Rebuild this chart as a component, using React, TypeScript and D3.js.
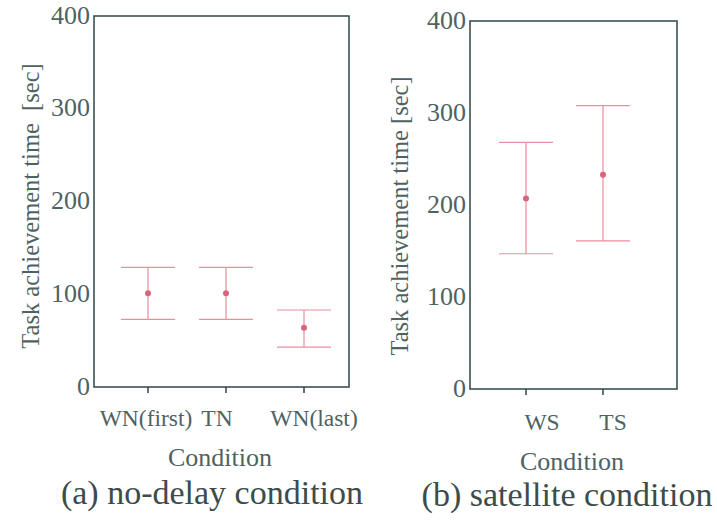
import React, { useEffect, useRef } from 'react';
import * as d3 from 'd3';

// (a) no-delay condition
const noDelayConditions = ['WN(first)', 'TN', 'WN(last)'];
const noDelayMean = [101, 101, 64];
const noDelayUpper = [129, 129, 83];
const noDelayLower = [73, 73, 43];

// (b) satellite condition
const satelliteConditions = ['WS', 'TS'];
const satelliteMean = [207, 233];
const satelliteUpper = [268, 308];
const satelliteLower = [147, 161];

const yTicks = [0, 100, 200, 300, 400];

const FONT = '"Liberation Serif", "Times New Roman", serif';
const TEXT = '#4f6262';
const AXIS = '#2f4646';
const BAR = '#ec8c9c';
const DOT = '#d9647c';

const panels = [
  {
    cats: noDelayConditions, mean: noDelayMean, up: noDelayUpper, lo: noDelayLower,
    left: 94, right: 349, top: 16, bottom: 387, pts: [148, 304],
    labelDx: [-2, -9, 10], tickLabelY: 426,
    yLabel: 'Task achievement time  [sec]', yLabelX: 39, yLabelY: 206,
    xTitleX: 220, xTitleY: 466, caption: '(a) no-delay condition', captionX: 212, captionY: 504,
  },
  {
    cats: satelliteConditions, mean: satelliteMean, up: satelliteUpper, lo: satelliteLower,
    left: 470, right: 677, top: 21, bottom: 389, pts: [526, 603],
    labelDx: [16, 10], tickLabelY: 430,
    yLabel: 'Task achievement time [sec]', yLabelX: 408, yLabelY: 216,
    xTitleX: 572, xTitleY: 470, caption: '(b) satellite condition', captionX: 567, captionY: 506,
  },
];

export default function App() {
  const ref = useRef<SVGSVGElement>(null);

  useEffect(() => {
    const svg = d3.select(ref.current);
    svg.selectAll('*').remove();

    panels.forEach((p) => {
      const g = svg.append('g');
      const y = d3.scaleLinear().domain([0, 400]).range([p.bottom, p.top]);
      const x = d3.scalePoint<string>().domain(p.cats).range(p.pts as [number, number]);

      // frame
      g.append('rect')
        .attr('x', p.left).attr('y', p.top)
        .attr('width', p.right - p.left).attr('height', p.bottom - p.top)
        .attr('fill', 'none').attr('stroke', AXIS).attr('stroke-width', 1.5);

      // y tick labels
      g.selectAll('.ytick').data(yTicks).join('text')
        .attr('x', p.left - 4).attr('y', (d) => y(d) - 1)
        .attr('text-anchor', 'end').attr('dominant-baseline', 'central')
        .attr('font-family', FONT).attr('font-size', 26).attr('fill', TEXT)
        .text((d) => d);

      // x ticks
      g.selectAll('.xtick').data(p.cats).join('line')
        .attr('x1', (d) => x(d)!).attr('x2', (d) => x(d)!)
        .attr('y1', p.bottom).attr('y2', p.bottom + 6)
        .attr('stroke', AXIS).attr('stroke-width', 1.5);

      g.selectAll('.xlabel').data(p.cats).join('text')
        .attr('x', (d, i) => x(d)! + p.labelDx[i]).attr('y', p.tickLabelY)
        .attr('text-anchor', 'middle')
        .attr('font-family', FONT).attr('font-size', 23.5).attr('fill', TEXT)
        .text((d) => d);

      // error bars
      const bars = g.selectAll('.bar').data(p.cats).join('g');
      bars.append('line')
        .attr('x1', (d) => x(d)!).attr('x2', (d) => x(d)!)
        .attr('y1', (d, i) => y(p.up[i])).attr('y2', (d, i) => y(p.lo[i]))
        .attr('stroke', BAR).attr('stroke-width', 1.2);
      bars.append('line')
        .attr('x1', (d) => x(d)! - 27).attr('x2', (d) => x(d)! + 27)
        .attr('y1', (d, i) => y(p.up[i])).attr('y2', (d, i) => y(p.up[i]))
        .attr('stroke', BAR).attr('stroke-width', 1.2);
      bars.append('line')
        .attr('x1', (d) => x(d)! - 27).attr('x2', (d) => x(d)! + 27)
        .attr('y1', (d, i) => y(p.lo[i])).attr('y2', (d, i) => y(p.lo[i]))
        .attr('stroke', BAR).attr('stroke-width', 1.2);
      bars.append('circle')
        .attr('cx', (d) => x(d)!).attr('cy', (d, i) => y(p.mean[i]))
        .attr('r', 3).attr('fill', DOT);

      // axis titles
      g.append('text')
        .attr('transform', `translate(${p.yLabelX}, ${p.yLabelY}) rotate(-90)`)
        .attr('text-anchor', 'middle')
        .attr('font-family', FONT).attr('font-size', 24.5).attr('fill', TEXT)
        .style('white-space', 'pre')
        .text(p.yLabel);

      g.append('text')
        .attr('x', p.xTitleX).attr('y', p.xTitleY).attr('text-anchor', 'middle')
        .attr('font-family', FONT).attr('font-size', 26).attr('fill', TEXT)
        .text('Condition');

      g.append('text')
        .attr('x', p.captionX).attr('y', p.captionY).attr('text-anchor', 'middle')
        .attr('font-family', FONT).attr('font-size', 34).attr('fill', '#3c4c4c')
        .text(p.caption);
    });
  }, []);

  return (
    <svg ref={ref} width={717} height={529}
      style={{ position: 'absolute', left: 0, top: 0, background: '#fff' }} />
  );
}
